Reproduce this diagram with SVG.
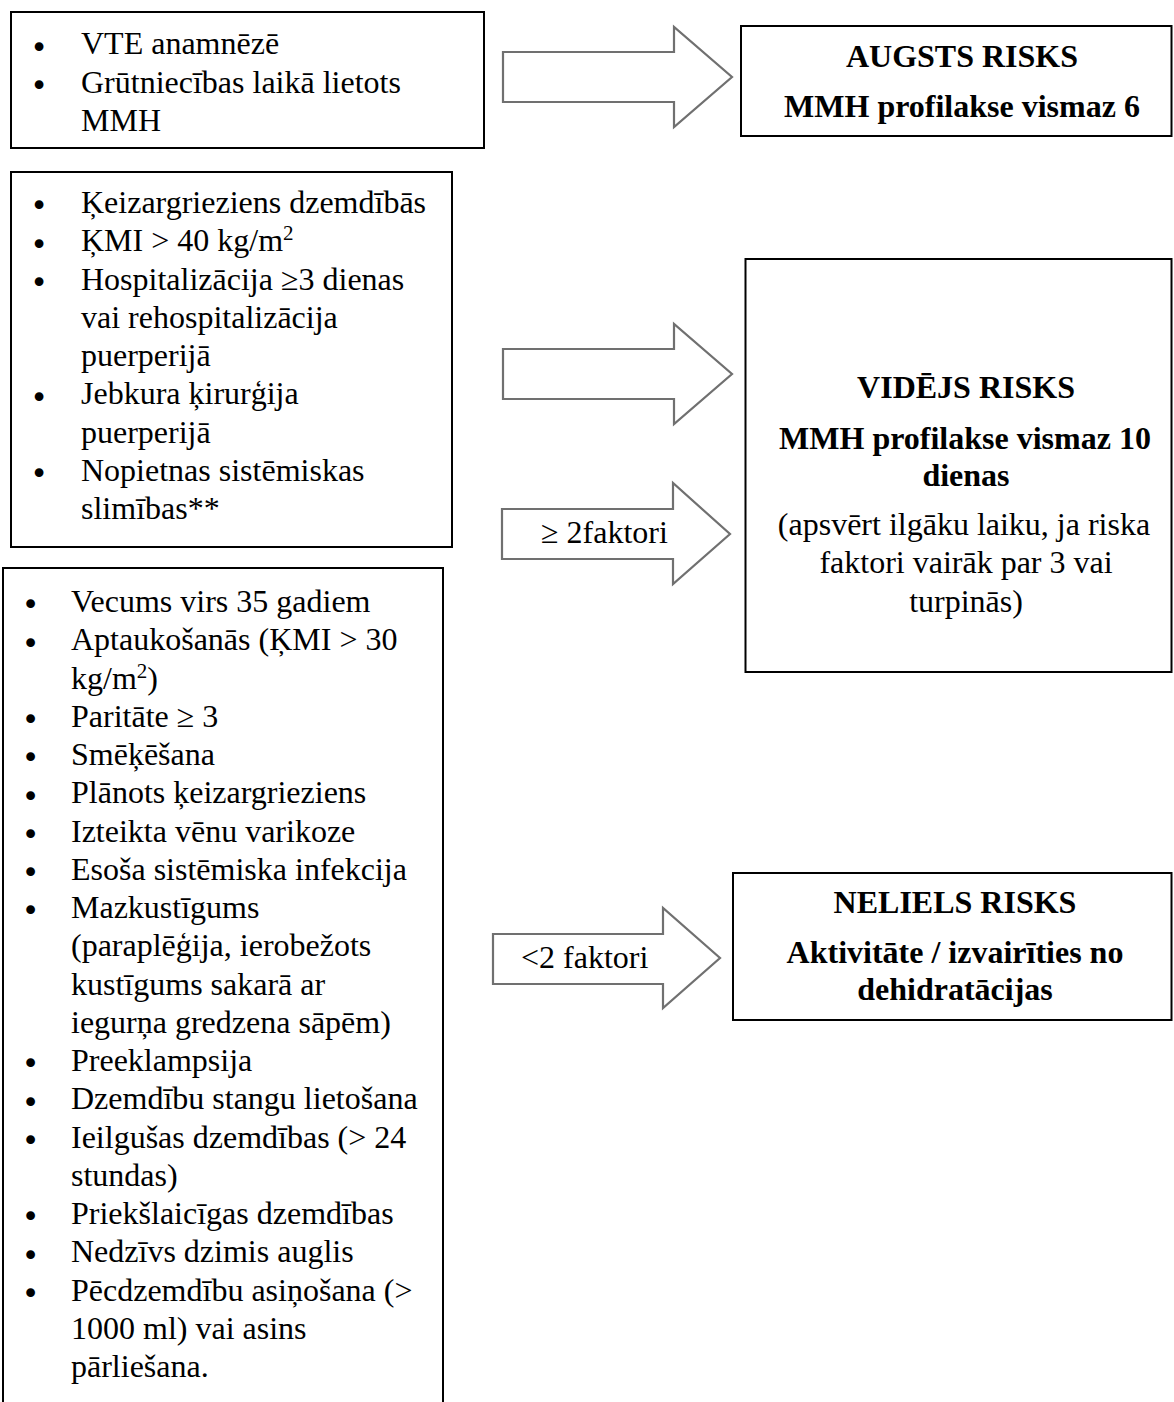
<svg xmlns="http://www.w3.org/2000/svg" width="1174" height="1402" viewBox="0 0 1174 1402">
<style>
text{font-family:"Liberation Serif","Times New Roman",serif;font-size:32px;fill:#000}
.b{font-weight:bold;text-anchor:middle}
.c{text-anchor:middle}
.bul{font-family:"DejaVu Sans",sans-serif;font-size:30px;text-anchor:middle}
.box{fill:#fff;stroke:#000;stroke-width:2}
.arr{fill:#fff;stroke:#707070;stroke-width:2.2;stroke-linejoin:miter}
.sup{font-size:21px}
</style>
<rect width="1174" height="1402" fill="#fff"/>
<g id="connectors">
<path id="arrow-high" class="arr" d="M503,52 H674 V27 L732,77 L674,127 V102 H503 Z"/>
<path id="arrow-mid1" class="arr" d="M503,349 H674 V324 L732,374 L674,424 V399 H503 Z"/>
<g id="arrow-mid2"><path class="arr" d="M502,509 H673 V483 L730,534 L673,584 V559 H502 Z"/><text x="541" y="543">≥ 2faktori</text></g>
<g id="arrow-low"><path class="arr" d="M493,934 H663 V908 L720,958 L663,1008 V984 H493 Z"/><text x="521" y="968">&lt;2 faktori</text></g>
</g>
<g id="box-high-factors">
<rect class="box" x="11" y="12" width="473" height="136"/>
<text class="bul" x="39" y="57.5">•</text><text x="81" y="54.3">VTE anamnēzē</text>
<text class="bul" x="39" y="95.8">•</text><text x="81" y="92.6">Grūtniecības laikā lietots</text>
<text x="81" y="130.9">MMH</text>
</g>
<g id="box-mid-factors">
<rect class="box" x="11" y="172" width="441" height="375"/>
<text class="bul" x="39" y="216.3">•</text><text x="81" y="213">Ķeizargrieziens dzemdībās</text>
<text class="bul" x="39" y="254.5">•</text><text x="81" y="251.3">ĶMI &gt; 40 kg/m<tspan class="sup" dy="-11">2</tspan></text>
<text class="bul" x="39" y="292.8">•</text><text x="81" y="289.5">Hospitalizācija ≥3 dienas</text>
<text x="81" y="327.8">vai rehospitalizācija</text>
<text x="81" y="366">puerperijā</text>
<text class="bul" x="39" y="407.5">•</text><text x="81" y="404.3">Jebkura ķirurģija</text>
<text x="81" y="442.5">puerperijā</text>
<text class="bul" x="39" y="484">•</text><text x="81" y="480.8">Nopietnas sistēmiskas</text>
<text x="81" y="519">slimības**</text>
</g>
<g id="box-low-factors">
<rect class="box" x="3" y="568" width="440" height="900"/>
<text class="bul" x="30.5" y="615.3">•</text><text x="71" y="612">Vecums virs 35 gadiem</text>
<text class="bul" x="30.5" y="653.5">•</text><text x="71" y="650.3">Aptaukošanās (ĶMI &gt; 30</text>
<text x="71" y="688.5">kg/m<tspan class="sup" dy="-11">2</tspan><tspan dy="11">)</tspan></text>
<text class="bul" x="30.5" y="730">•</text><text x="71" y="726.8">Paritāte ≥ 3</text>
<text class="bul" x="30.5" y="768.3">•</text><text x="71" y="765">Smēķēšana</text>
<text class="bul" x="30.5" y="806.5">•</text><text x="71" y="803.3">Plānots ķeizargrieziens</text>
<text class="bul" x="30.5" y="844.8">•</text><text x="71" y="841.5">Izteikta vēnu varikoze</text>
<text class="bul" x="30.5" y="883">•</text><text x="71" y="879.8">Esoša sistēmiska infekcija</text>
<text class="bul" x="30.5" y="921.3">•</text><text x="71" y="918">Mazkustīgums</text>
<text x="71" y="956.3">(paraplēģija, ierobežots</text>
<text x="71" y="994.5">kustīgums sakarā ar</text>
<text x="71" y="1032.8">iegurņa gredzena sāpēm)</text>
<text class="bul" x="30.5" y="1074.3">•</text><text x="71" y="1071">Preeklampsija</text>
<text class="bul" x="30.5" y="1112.5">•</text><text x="71" y="1109.3">Dzemdību stangu lietošana</text>
<text class="bul" x="30.5" y="1150.8">•</text><text x="71" y="1147.5">Ieilgušas dzemdības (&gt; 24</text>
<text x="71" y="1185.8">stundas)</text>
<text class="bul" x="30.5" y="1227.3">•</text><text x="71" y="1224">Priekšlaicīgas dzemdības</text>
<text class="bul" x="30.5" y="1265.5">•</text><text x="71" y="1262.3">Nedzīvs dzimis auglis</text>
<text class="bul" x="30.5" y="1303.8">•</text><text x="71" y="1300.5">Pēcdzemdību asiņošana (&gt;</text>
<text x="71" y="1338.8">1000 ml) vai asins</text>
<text x="71" y="1377">pārliešana.</text>
</g>
<g id="box-high-risk">
<rect class="box" x="741" y="26" width="430.5" height="110"/>
<text class="b" x="962" y="66.7">AUGSTS RISKS</text>
<text class="b" x="962" y="116.7">MMH profilakse vismaz 6</text>
</g>
<g id="box-mid-risk">
<rect class="box" x="745.5" y="259" width="426" height="413"/>
<text class="b" x="966" y="398">VIDĒJS RISKS</text>
<text class="b" x="965" y="449">MMH profilakse vismaz 10</text>
<text class="b" x="966" y="485.8">dienas</text>
<text class="c" x="964" y="535">(apsvērt ilgāku laiku, ja riska</text>
<text class="c" x="966" y="573.3">faktori vairāk par 3 vai</text>
<text class="c" x="966" y="611.6">turpinās)</text>
</g>
<g id="box-low-risk">
<rect class="box" x="733" y="873" width="438.5" height="147"/>
<text class="b" x="955" y="913">NELIELS RISKS</text>
<text class="b" x="955" y="963">Aktivitāte / izvairīties no</text>
<text class="b" x="955" y="999.8">dehidratācijas</text>
</g>
</svg>
